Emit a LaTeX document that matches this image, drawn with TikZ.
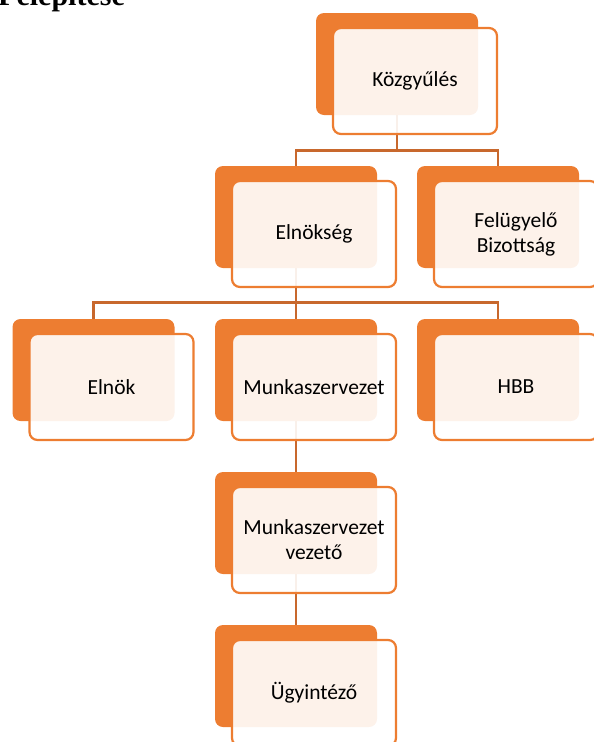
\documentclass[tikz,border=0pt]{standalone}
\usepackage{fontspec}
\setmainfont{Carlito}
\newfontfamily\headfont{Liberation Serif}
\definecolor{accorange}{RGB}{237,125,49}
\definecolor{linkorange}{RGB}{200,104,45}
\begin{document}
\begin{tikzpicture}[x=1pt, y=-1pt,
    backbox/.style={fill=accorange, rounded corners=8pt, minimum width=162pt, minimum height=102pt, inner sep=0pt},
    frontbox/.style={draw=accorange, line width=2.2pt, fill=white, fill opacity=0.9, text opacity=1, rounded corners=8pt,
        minimum width=164pt, minimum height=106pt, inner sep=2pt, align=center, font=\fontsize{21.5}{25}\selectfont},
    conn/.style={draw=linkorange, line width=2.6pt}]
    \useasboundingbox (0,0) rectangle (594,742);

    % Heading, cut at the top edge
    \node[anchor=base west, inner sep=0pt, font=\headfont\bfseries\fontsize{30}{34}\selectfont] (title) at (-2,5) {Felépítése};

    % Back boxes
    \node[backbox] (kozgy-b) at (397,64) {};
    \node[backbox] (elnokseg-b) at (296,217) {};
    \node[backbox] (fb-b) at (498,217) {};
    \node[backbox] (elnok-b) at (93.5,370) {};
    \node[backbox] (munka-b) at (296,370) {};
    \node[backbox] (hbb-b) at (498,370) {};
    \node[backbox] (msv-b) at (296,523) {};
    \node[backbox] (ugy-b) at (296,676) {};

    % Connectors
    \draw[conn] (kozgy-b.south) -- ++(0,35) -| (elnokseg-b.north);
    \draw[conn] (kozgy-b.south) -- ++(0,35) -| (fb-b.north);
    \draw[conn] (elnokseg-b.south) -- ++(0,34) -| (elnok-b.north);
    \draw[conn] (elnokseg-b.south) -- ++(0,34) -| (munka-b.north);
    \draw[conn] (elnokseg-b.south) -- ++(0,34) -| (hbb-b.north);
    \draw[conn] (munka-b.south) -- (msv-b.north);
    \draw[conn] (msv-b.south) -- (ugy-b.north);

    % Front boxes with the texts
    \node[frontbox] (kozgy) at (415,81) {Közgyűlés};
    \node[frontbox] (elnokseg) at (314,234) {Elnökség};
    \node[frontbox] (fb) at (516,234) {Felügyelő\\Bizottság};
    \node[frontbox] (elnok) at (111.5,387) {Elnök};
    \node[frontbox] (munka) at (314,387) {Munkaszervezet};
    \node[frontbox] (hbb) at (516,387) {HBB};
    \node[frontbox] (msv) at (314,540) {Munkaszervezet\\vezető};
    \node[frontbox] (ugy) at (314,693) {Ügyintéző};
\end{tikzpicture}
\end{document}
